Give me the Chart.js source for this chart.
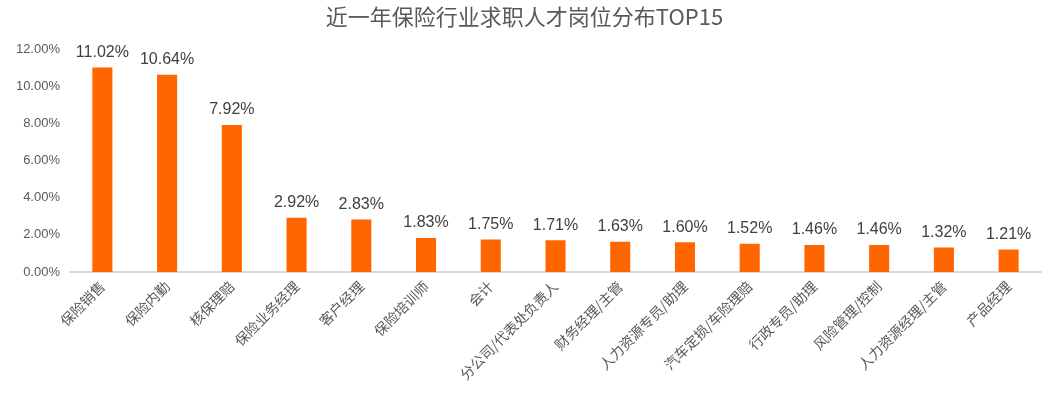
<!DOCTYPE html>
<html>
<head>
<meta charset="utf-8">
<script src="https://cdn.jsdelivr.net/npm/chart.js@4/dist/chart.umd.min.js"></script>
<style>
  html, body { margin: 0; padding: 0; background: #fff; }
  #wrap { width: 1057px; height: 397px; }
</style>
</head>
<body>
<div id="wrap"><canvas id="chart"></canvas></div>
<script>
const categories = ['保险销售', '保险内勤', '核保理赔', '保险业务经理', '客户经理', '保险培训师', '会计',
  '分公司/代表处负责人', '财务经理/主管', '人力资源专员/助理', '汽车定损/车险理赔', '行政专员/助理',
  '风险管理/控制', '人力资源经理/主管', '产品经理'];
const shares = [11.02, 10.64, 7.92, 2.92, 2.83, 1.83, 1.75, 1.71, 1.63, 1.60, 1.52, 1.46, 1.46, 1.32, 1.21];
const titleText = '近一年保险行业求职人才岗位分布TOP15';

const fontFamily = '"Noto Sans CJK SC", "Liberation Sans", sans-serif';
const numFont = '"Liberation Sans", Arial, sans-serif';

// value labels above each bar
const barLabels = {
    id: 'barLabels',
    afterDatasetsDraw(chart) {
        const ctx = chart.ctx;
        const meta = chart.getDatasetMeta(0);
        ctx.save();
        ctx.font = '16px ' + numFont;
        ctx.fillStyle = '#404040';
        ctx.textAlign = 'center';
        ctx.textBaseline = 'bottom';
        meta.data.forEach((bar, i) => {
            ctx.fillText(shares[i].toFixed(2) + '%', bar.x, bar.y - 7);
        });
        ctx.restore();
    }
};

new Chart(document.getElementById('chart'), {
    type: 'bar',
    data: {
        labels: categories,
        datasets: [{
            data: shares,
            backgroundColor: '#FF6600',
            categoryPercentage: 1,
            barPercentage: 0.31
        }]
    },
    options: {
        responsive: true,
        maintainAspectRatio: false,
        animation: false,
        layout: { padding: { left: 8, right: 16, top: 0, bottom: 0 } },
        plugins: {
            legend: { display: false },
            tooltip: { enabled: false },
            title: {
                display: true,
                text: titleText,
                color: '#595959',
                font: { family: fontFamily, size: 22, weight: 'normal' },
                padding: { top: 3, bottom: 20 }
            }
        },
        scales: {
            x: {
                grid: { display: false, drawTicks: false },
                border: { color: '#d9d9d9', width: 2 },
                ticks: {
                    color: '#595959',
                    font: { family: fontFamily, size: 14 },
                    maxRotation: 45,
                    minRotation: 45,
                    autoSkip: false,
                    padding: 6
                },
                afterFit(scale) { scale.height = 125; }
            },
            y: {
                min: 0,
                max: 12,
                grid: { display: false, drawTicks: false },
                border: { display: false },
                ticks: {
                    stepSize: 2,
                    color: '#595959',
                    font: { family: numFont, size: 13 },
                    padding: 10,
                    callback: v => v.toFixed(2) + '%'
                },
                afterFit(scale) { scale.width = 62; }
            }
        }
    },
    plugins: [barLabels]
});
</script>
</body>
</html>
